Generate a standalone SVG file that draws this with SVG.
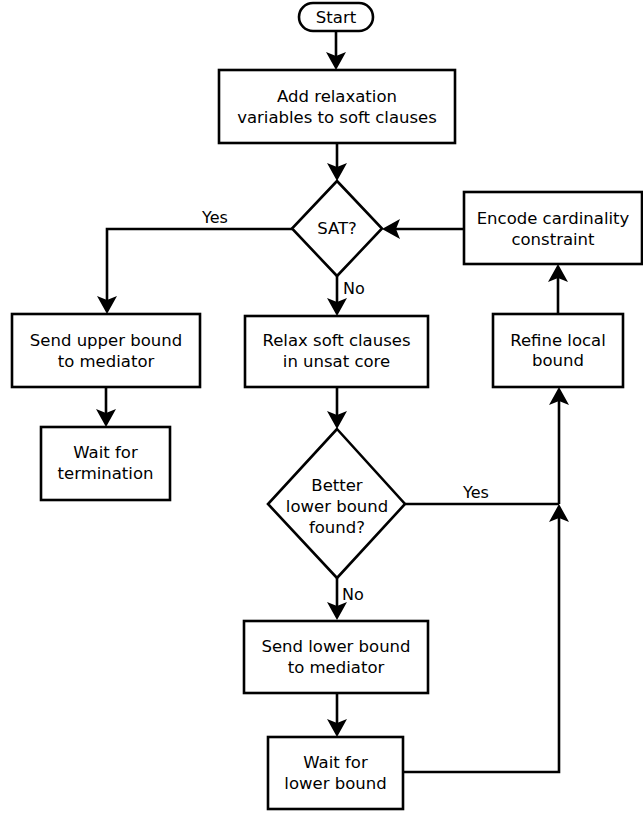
<svg xmlns="http://www.w3.org/2000/svg" width="643" height="813" viewBox="0 0 643 813">
  <style>
    .box { fill: #fff; stroke: #000; stroke-width: 2.6; }
    .lbl { font-family: "DejaVu Sans", "Liberation Sans", sans-serif; font-size: 16.5px; fill: #000; text-anchor: middle; }
    .edge-lbl { font-family: "DejaVu Sans", "Liberation Sans", sans-serif; font-size: 16px; fill: #000; }
    .edge { fill: none; stroke: #000; stroke-width: 2.6; }
    .arrow { marker-end: url(#head); }
  </style>
  <defs>
    <marker id="head" markerUnits="userSpaceOnUse" viewBox="-19 -11 20 22" markerWidth="20" markerHeight="22" refX="-8" refY="0" orient="auto">
      <path d="M0,0 L-18,-10 L-14,0 L-18,10 Z" fill="#000"/>
    </marker>
  </defs>

  <g id="connectors">
    <path class="edge arrow" d="M336,31 V62"/>
    <path class="edge arrow" d="M337,143 V173"/>
    <path class="edge arrow" d="M292,229 H107 V306"/>
    <path class="edge arrow" d="M337,276 V308"/>
    <path class="edge arrow" d="M106,387 V419"/>
    <path class="edge arrow" d="M337,387 V421"/>
    <path class="edge" d="M405,504 H559"/>
    <path class="edge arrow" d="M337,578 V612"/>
    <path class="edge arrow" d="M337,693 V729"/>
    <path class="edge arrow" d="M403,772 H559 V512"/>
    <path class="edge arrow" d="M559,504 V395"/>
    <path class="edge arrow" d="M558,314 V272"/>
    <path class="edge arrow" d="M464,229 H390"/>
    <text class="edge-lbl" x="202" y="223">Yes</text>
    <text class="edge-lbl" x="343" y="294">No</text>
    <text class="edge-lbl" x="463" y="498">Yes</text>
    <text class="edge-lbl" x="342" y="600">No</text>
  </g>

  <g id="start">
    <rect class="box" x="299" y="3" width="74" height="28" rx="14"/>
    <text class="lbl" x="336" y="23">Start</text>
  </g>

  <g id="add-relaxation">
    <rect class="box" x="219" y="70" width="236" height="73"/>
    <text class="lbl" x="337" y="102">Add relaxation</text>
    <text class="lbl" x="337" y="123">variables to soft clauses</text>
  </g>

  <g id="sat">
    <polygon class="box" points="337,181 382,228.5 337,276 292,228.5"/>
    <text class="lbl" x="337" y="234">SAT?</text>
  </g>

  <g id="send-upper">
    <rect class="box" x="12" y="314" width="188" height="73"/>
    <text class="lbl" x="106" y="346">Send upper bound</text>
    <text class="lbl" x="106" y="367">to mediator</text>
  </g>

  <g id="wait-termination">
    <rect class="box" x="41" y="427" width="129" height="73"/>
    <text class="lbl" x="105.5" y="458">Wait for</text>
    <text class="lbl" x="105.5" y="479">termination</text>
  </g>

  <g id="relax-core">
    <rect class="box" x="245" y="316" width="183" height="71"/>
    <text class="lbl" x="336.5" y="346">Relax soft clauses</text>
    <text class="lbl" x="336.5" y="367">in unsat core</text>
  </g>

  <g id="better-bound">
    <polygon class="box" points="337,429 405,504 337,578 268,504"/>
    <text class="lbl" x="337" y="491">Better</text>
    <text class="lbl" x="337" y="512">lower bound</text>
    <text class="lbl" x="337" y="533">found?</text>
  </g>

  <g id="send-lower">
    <rect class="box" x="244" y="621" width="184" height="72"/>
    <text class="lbl" x="336" y="652">Send lower bound</text>
    <text class="lbl" x="336" y="673">to mediator</text>
  </g>

  <g id="wait-lower">
    <rect class="box" x="268" y="737" width="135" height="72"/>
    <text class="lbl" x="335.5" y="768">Wait for</text>
    <text class="lbl" x="335.5" y="789">lower bound</text>
  </g>

  <g id="refine-bound">
    <rect class="box" x="493" y="314" width="130" height="73"/>
    <text class="lbl" x="558" y="346">Refine local</text>
    <text class="lbl" x="558" y="366">bound</text>
  </g>

  <g id="encode-cardinality">
    <rect class="box" x="464" y="192" width="178" height="72"/>
    <text class="lbl" x="553" y="224">Encode cardinality</text>
    <text class="lbl" x="553" y="245">constraint</text>
  </g>
</svg>
